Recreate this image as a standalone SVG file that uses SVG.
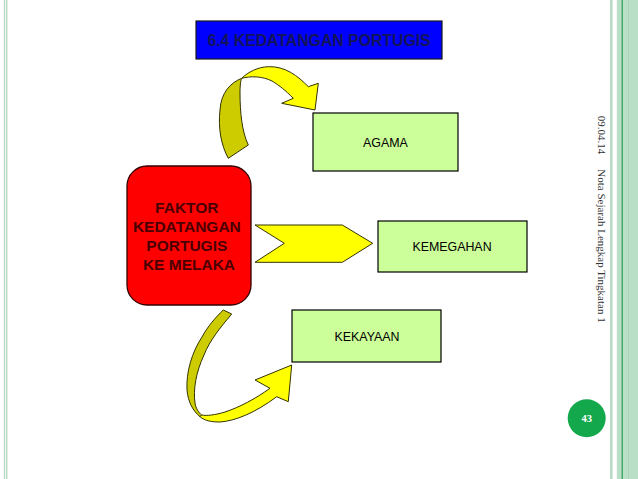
<svg xmlns="http://www.w3.org/2000/svg" width="638" height="479" viewBox="0 0 638 479">
<style>
.box{fill:#ccff99;stroke:#000;stroke-width:1.2}
.lbl{font-family:"Liberation Sans",Arial,sans-serif;font-size:12.4px;fill:#000;text-anchor:middle;dominant-baseline:central}
.bold{font-family:"Liberation Sans",Arial,sans-serif;font-weight:bold;text-anchor:middle}
.yel{fill:#ffff00;stroke:#333300;stroke-width:1}
.olv{fill:#cccc00;stroke:#333300;stroke-width:1}
.ft{font-family:"Liberation Serif","Times New Roman",serif;font-size:11px;fill:#333;text-anchor:middle}
</style>
<rect x="0" y="0" width="638" height="479" fill="#fff"/>
<g id="frame">
<rect x="3.8" y="0" width="1.4" height="479" fill="#b7dcc3"/>
<rect x="6" y="0" width="1.4" height="479" fill="#b7dcc3"/>
<rect x="610" y="0" width="2.6" height="479" fill="#b7dcc3"/>
<rect x="616.8" y="0" width="21.2" height="479" fill="#b9e0c6"/>
<rect x="621.6" y="0" width="1.2" height="479" fill="#2e9e55"/>
<rect x="628" y="0" width="0.8" height="479" fill="#a6d4b5"/>
</g>
<g id="footer">
<text class="ft" transform="translate(597.5,135) rotate(90)">09.04.14</text>
<text class="ft" transform="translate(597.5,246) rotate(90)">Nota Sejarah Lengkap Tingkatan 1</text>
<circle cx="586.7" cy="418.3" r="19" fill="#14a84c"/>
<text x="586.7" y="422" font-family="'Liberation Serif','Times New Roman',serif" font-size="10.5" font-weight="bold" fill="#fff" text-anchor="middle">43</text>
</g>
<g id="title">
<rect x="196" y="21" width="246" height="38" fill="#0000ff" stroke="#1a1a1a" stroke-width="1.2"/>
<text class="bold" x="319" y="45.5" font-size="15.8" fill="#14145a">6.4 KEDATANGAN PORTUGIS</text>
</g>
<g id="faktor">
<rect x="127" y="166" width="124" height="139" rx="20" ry="20" fill="#ff0000" stroke="#330000" stroke-width="1.3"/>
<text class="bold" font-size="15.5" fill="#4a0000">
<tspan x="189" y="213">FAKTOR</tspan>
<tspan x="189" y="232">KEDATANGAN</tspan>
<tspan x="189" y="251">PORTUGIS</tspan>
<tspan x="189" y="270">KE MELAKA</tspan>
</text>
</g>
<g id="agama">
<rect class="box" x="313" y="113" width="145" height="58"/>
<text class="lbl" x="385.5" y="143">AGAMA</text>
</g>
<g id="kemegahan">
<rect class="box" x="378" y="221" width="149" height="51"/>
<text class="lbl" x="452" y="246.5">KEMEGAHAN</text>
</g>
<g id="kekayaan">
<rect class="box" x="292" y="310" width="149" height="52"/>
<text class="lbl" x="367" y="336.5">KEKAYAAN</text>
</g>
<g id="connectors">
<path class="olv" d="M228.3,158.3 L248.3,145 C242,132 240,112 240,93 C240,86 240.5,81 241.7,78.3 C230,83 221,93 220,110 C218,128 221,145 228.3,158.3 Z"/>
<path class="yel" d="M241.7,78.3 C248,72 258,67 268.3,66.7 C285,66 298,76 308.3,86.7 L318.3,83.3 L315,110 L281.7,103.3 L293.3,98.3 C285,90 280,86 272,81 C262,76 250,76 241.7,78.3 Z"/>
<polygon class="yel" points="255,225 342.3,225 372.7,243.3 342.3,262.3 255,262.3 284.3,243.3"/>
<path class="olv" d="M223.3,310 L231.7,314 C220,328 210,340 204,355 C196,372 193,390 195,403 C196,409 199,413 201.7,415 L200,416.7 C193,411 188,402 187,390 C186,372 192,352 202,337 C208,326 215,318 223.3,310 Z"/>
<path class="yel" d="M200,416.7 C205,421 212,422 220,422 C235,421 255,413 276.7,396.7 L288.3,401.7 L291.7,365 L255,380 L270,388.3 C255,399 240,407 225,412 C215,415 207,416 201.7,415 Z"/>
</g>
</svg>
